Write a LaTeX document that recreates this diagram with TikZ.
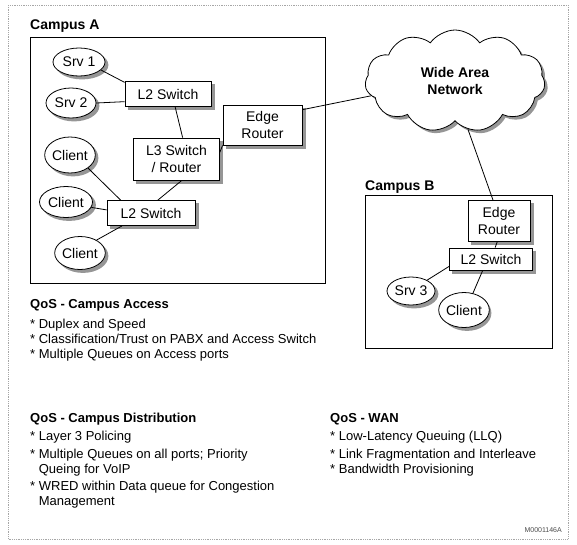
\documentclass[tikz,border=0pt]{standalone}
\usepackage{fontspec}
\setmainfont{Liberation Sans}
\usetikzlibrary{shapes.geometric,shapes.symbols}
\definecolor{shadowc}{RGB}{150,150,150}
\begin{document}
\begin{tikzpicture}[x=1pt,y=-1pt,
  netfont/.style={font=\fontsize{14}{17}\selectfont},
  dev/.style={draw,fill=white,line width=0.8pt,netfont,inner sep=0pt,align=center},
  boxnode/.style={dev,rectangle},
  oval/.style={dev,ellipse},
  wancloud/.style={cloud,cloud puffs=11,cloud puff arc=110,aspect=1.8,minimum width=180pt,minimum height=102pt,align=center,inner sep=0pt,font=\fontsize{14}{17}\selectfont\bfseries},
  shline/.style={draw=shadowc,line width=3pt},
  link/.style={draw,line width=0.8pt},
  area/.style={draw,line width=0.8pt},
  title/.style={font=\fontsize{14}{16}\selectfont\bfseries,anchor=base west,inner sep=0pt},
  head/.style={font=\fontsize{13}{15}\selectfont\bfseries,anchor=base west,inner sep=0pt},
  item/.style={font=\fontsize{13}{15}\selectfont,anchor=base west,inner sep=0pt},
]
\useasboundingbox (0,0) rectangle (577,544);
\fill[white] (0,0) rectangle (577,544);
\draw[gray!70,densely dotted,line width=0.8pt] (8,5) rectangle (568,539);

% shadows of round shapes (covered by the shapes drawn over them)
\fill[shadowc] (82,65) ellipse [x radius=26.4, y radius=14.4];
\fill[shadowc] (74,106) ellipse [x radius=25.4, y radius=15.4];
\fill[shadowc] (73,158) ellipse [x radius=25.4, y radius=18.4];
\fill[shadowc] (69,205) ellipse [x radius=26.9, y radius=15.9];
\fill[shadowc] (83,256) ellipse [x radius=25.4, y radius=16.9];
\fill[shadowc] (414,294) ellipse [x radius=24.4, y radius=14.4];
\fill[shadowc] (467,313) ellipse [x radius=24.4, y radius=17.9];
\node[wancloud,fill=shadowc] (wanshadow) at (458,84) {\phantom{Wide Area}\\\phantom{Network}};

% Campus A
\node[title] (campA) at (30,29) {Campus A};
\draw[area] (30,37) rectangle (325,283);
\node[oval,minimum width=52pt,minimum height=28pt] (srv1) at (79,62) {Srv 1};
\node[oval,minimum width=50pt,minimum height=30pt] (srv2) at (71,103) {Srv 2};
\node[boxnode,minimum width=86pt,minimum height=25pt] (l2a) at (168,94) {L2 Switch};
\node[boxnode,minimum width=86pt,minimum height=42pt] (l3) at (176.5,159) {L3 Switch\\/ Router};
\node[boxnode,minimum width=79pt,minimum height=40pt] (edgea) at (262.5,125) {Edge\\Router};
\node[oval,minimum width=50pt,minimum height=36pt] (c1) at (70,155) {Client};
\node[oval,minimum width=53pt,minimum height=31pt] (c2) at (66,202) {Client};
\node[boxnode,minimum width=88pt,minimum height=25pt] (l2b) at (151,213) {L2 Switch};
\node[oval,minimum width=50pt,minimum height=33pt] (c3) at (80,253) {Client};

% WAN
\node[dev,wancloud] (wan) at (455,81) {Wide Area\\Network};

% Campus B
\node[title] (campB) at (365,190) {Campus B};
\draw[area] (365,195) rectangle (552,348);
\node[boxnode,minimum width=62pt,minimum height=41pt] (edgeb) at (499,221) {Edge\\Router};
\node[boxnode,minimum width=83pt,minimum height=22pt] (l2bb) at (491,259) {L2 Switch};
\node[oval,minimum width=48pt,minimum height=28pt] (srv3) at (411,291) {Srv 3};
\node[oval,minimum width=48pt,minimum height=35pt] (cb) at (464,310) {Client};

% box shadows, drawn outside the boxes
\foreach \b in {l2a,l3,edgea,l2b,edgeb,l2bb}
  \path[shline] ([xshift=1.9pt,yshift=-3pt]\b.north east) -- ([xshift=1.9pt,yshift=-1.9pt]\b.south east) -- ([xshift=3pt,yshift=-1.9pt]\b.south west);

% links
\path[link] (srv1.-20) -- (l2a.165);
\path[link] (srv2.east) -- (l2a.190);
\path[link] (l2a.-61) -- (l3.74);
\path[link] (l3.9) -- (edgea.south west);
\path[link] (edgea.21) -- (wan.190);
\path[link] (l3.-76) -- (l2b.62);
\path[link] (c1.-36) -- (l2b.157);
\path[link] (c2.-12) -- (l2b.176);
\path[link] (c3.38) -- (l2b.204);
\path[link] (wan.-75) -- (edgeb.106);
\path[link] (edgeb.-95) -- (l2bb.70);
\path[link] (l2bb.190) -- (srv3.34);
\path[link] (l2bb.-126) -- (cb.62);

% texts
\node[head] (hacc) at (30,308) {QoS - Campus Access};
\node[item] (acc1) at (30,328) {* Duplex and Speed};
\node[item] (acc2) at (30,343) {* Classification/Trust on PABX and Access Switch};
\node[item] (acc3) at (30,358) {* Multiple Queues on Access ports};

\node[head] (hdis) at (30,422) {QoS - Campus Distribution};
\node[item] (dis1) at (30,440) {* Layer 3 Policing};
\node[item] (dis2) at (30,458) {* Multiple Queues on all ports; Priority};
\node[item] (dis2b) at (38.6,473) {Queing for VoIP};
\node[item] (dis3) at (30,490) {* WRED within Data queue for Congestion};
\node[item] (dis3b) at (38.6,505) {Management};

\node[head] (hwan) at (330,422) {QoS - WAN};
\node[item] (wan1) at (330,440) {* Low-Latency Queuing (LLQ)};
\node[item] (wan2) at (330,458) {* Link Fragmentation and Interleave};
\node[item] (wan3) at (330,473) {* Bandwidth Provisioning};

\node[font=\fontsize{7}{8}\selectfont,text=black!70,anchor=base east,inner sep=0pt] (code) at (562,532) {M0001146A};
\end{tikzpicture}
\end{document}
